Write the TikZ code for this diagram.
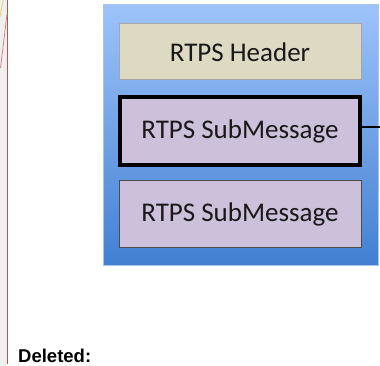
\documentclass[tikz,border=0pt]{standalone}
\usepackage{fontspec}
\setmainfont{Carlito}
\newfontfamily\delfont{Liberation Sans}
\definecolor{hdrfill}{RGB}{221,217,195}
\definecolor{subfill}{RGB}{204,192,218}
\definecolor{bluetop}{RGB}{158,195,250}
\definecolor{bluebot}{RGB}{66,128,210}
\definecolor{blueedge}{RGB}{170,195,235}
\definecolor{redline}{RGB}{190,80,80}
\definecolor{yelline}{RGB}{215,215,120}
\tikzset{
  field/.style={rectangle, minimum width=242pt, inner sep=0pt, text=black!90, font=\fontsize{27}{30}\selectfont},
  hdrbox/.style={field, fill=hdrfill, draw=gray!70, line width=1pt, minimum height=56pt},
  subbox/.style={field, fill=subfill, draw=black!70, line width=1pt, minimum height=66pt},
  selbox/.style={field, fill=subfill, draw=black, line width=4pt, minimum width=240pt, minimum height=68pt},
}
\begin{document}
\begin{tikzpicture}[x=1pt,y=-1pt]
\useasboundingbox (0,0) rectangle (380,366);
% margin strip
\fill[gray!12] (0,0) rectangle (7,366);
\draw[redline, line width=1.2pt] (7.5,0) -- (7.5,364);
\draw[yelline, line width=0.8pt] (0,17) -- (3,0);
\draw[redline!70, line width=0.8pt] (0.5,68) -- (7,14);
% packet container
\node[rectangle, minimum width=275pt, minimum height=261pt, inner sep=0pt,
      top color=bluetop, bottom color=bluebot, draw=blueedge, line width=0.8pt]
      (packet) at (240.5,135) {};
\node[hdrbox] (hdr) at (240,52) {RTPS Header};
\node[selbox] (sub1) at (240,131) {RTPS SubMessage};
\node[subbox] (sub2) at (240,214) {RTPS SubMessage};
\coordinate (out) at (380,127);
\draw[black, line width=2pt] (sub1.east |- out) -- (out);
\node[anchor=base west, inner sep=0pt, font=\delfont\bfseries\fontsize{18.5}{21}\selectfont] (del) at (18,362) {Deleted:};
\end{tikzpicture}
\end{document}
